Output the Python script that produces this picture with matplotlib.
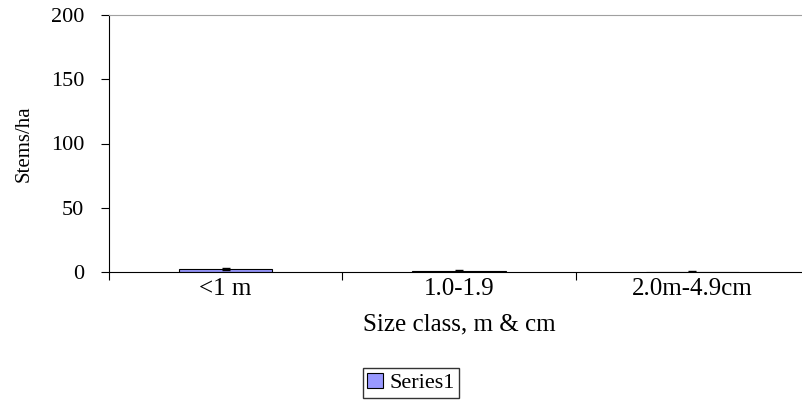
import numpy as np
import matplotlib.pyplot as plt

# Chart data
categories = ["<1 m", "1.0-1.9", "2.0m-4.9cm"]
stems_per_ha = [2.2, 1.0, 0.3]
errors = [0.8, 0.8, 0.2]
y_ticks = [0, 50, 100, 150, 200]

plt.rcParams['font.family'] = ['Liberation Serif', 'DejaVu Serif']

fig = plt.figure(figsize=(8.03, 4.07), dpi=100)
# Plot area runs slightly beyond the right edge, as in the reference
ax = fig.add_axes([109 / 803, 1 - 272 / 407, 700 / 803, 257 / 407])

x = np.arange(len(categories))
bars = ax.bar(x, stems_per_ha, width=0.4, color="#9999FF", edgecolor="black",
              linewidth=0.8, label="Series1")
ax.errorbar(x, stems_per_ha, yerr=errors, fmt="none", ecolor="black",
            elinewidth=0.8, capsize=3)

ax.set_xlim(-0.5, len(categories) - 0.5)
ax.set_ylim(0, 200)
ax.set_yticks(y_ticks)
ax.tick_params(axis="y", labelsize=16, direction="out", length=6, width=0.8, pad=12)

# Category labels centred, tick marks at the boundaries
ax.set_xticks(x)
ax.set_xticklabels(categories, fontsize=18)
ax.tick_params(axis="x", length=0, pad=4)
ax.set_xticks(np.arange(len(categories) + 1) - 0.5, minor=True)
ax.tick_params(axis="x", which="minor", direction="out", length=6, width=0.8)

ax.spines["right"].set_visible(False)
ax.spines["top"].set_color("#a0a0a0")
ax.spines["left"].set_linewidth(0.8)
ax.spines["bottom"].set_linewidth(0.8)

ax.set_ylabel("Stems/ha", fontsize=15, labelpad=12)
ax.set_xlabel("Size class, m & cm", fontsize=18, labelpad=10)

fig.legend(handles=[bars], labels=["Series1"], loc="center",
           bbox_to_anchor=(411 / 803, 1 - 383 / 407), fontsize=16,
           frameon=True, fancybox=False, edgecolor="black",
           handlelength=0.7, handleheight=0.7, handletextpad=0.3,
           borderpad=0.2, borderaxespad=0)

fig.savefig("out.png", dpi=100)
plt.close(fig)
